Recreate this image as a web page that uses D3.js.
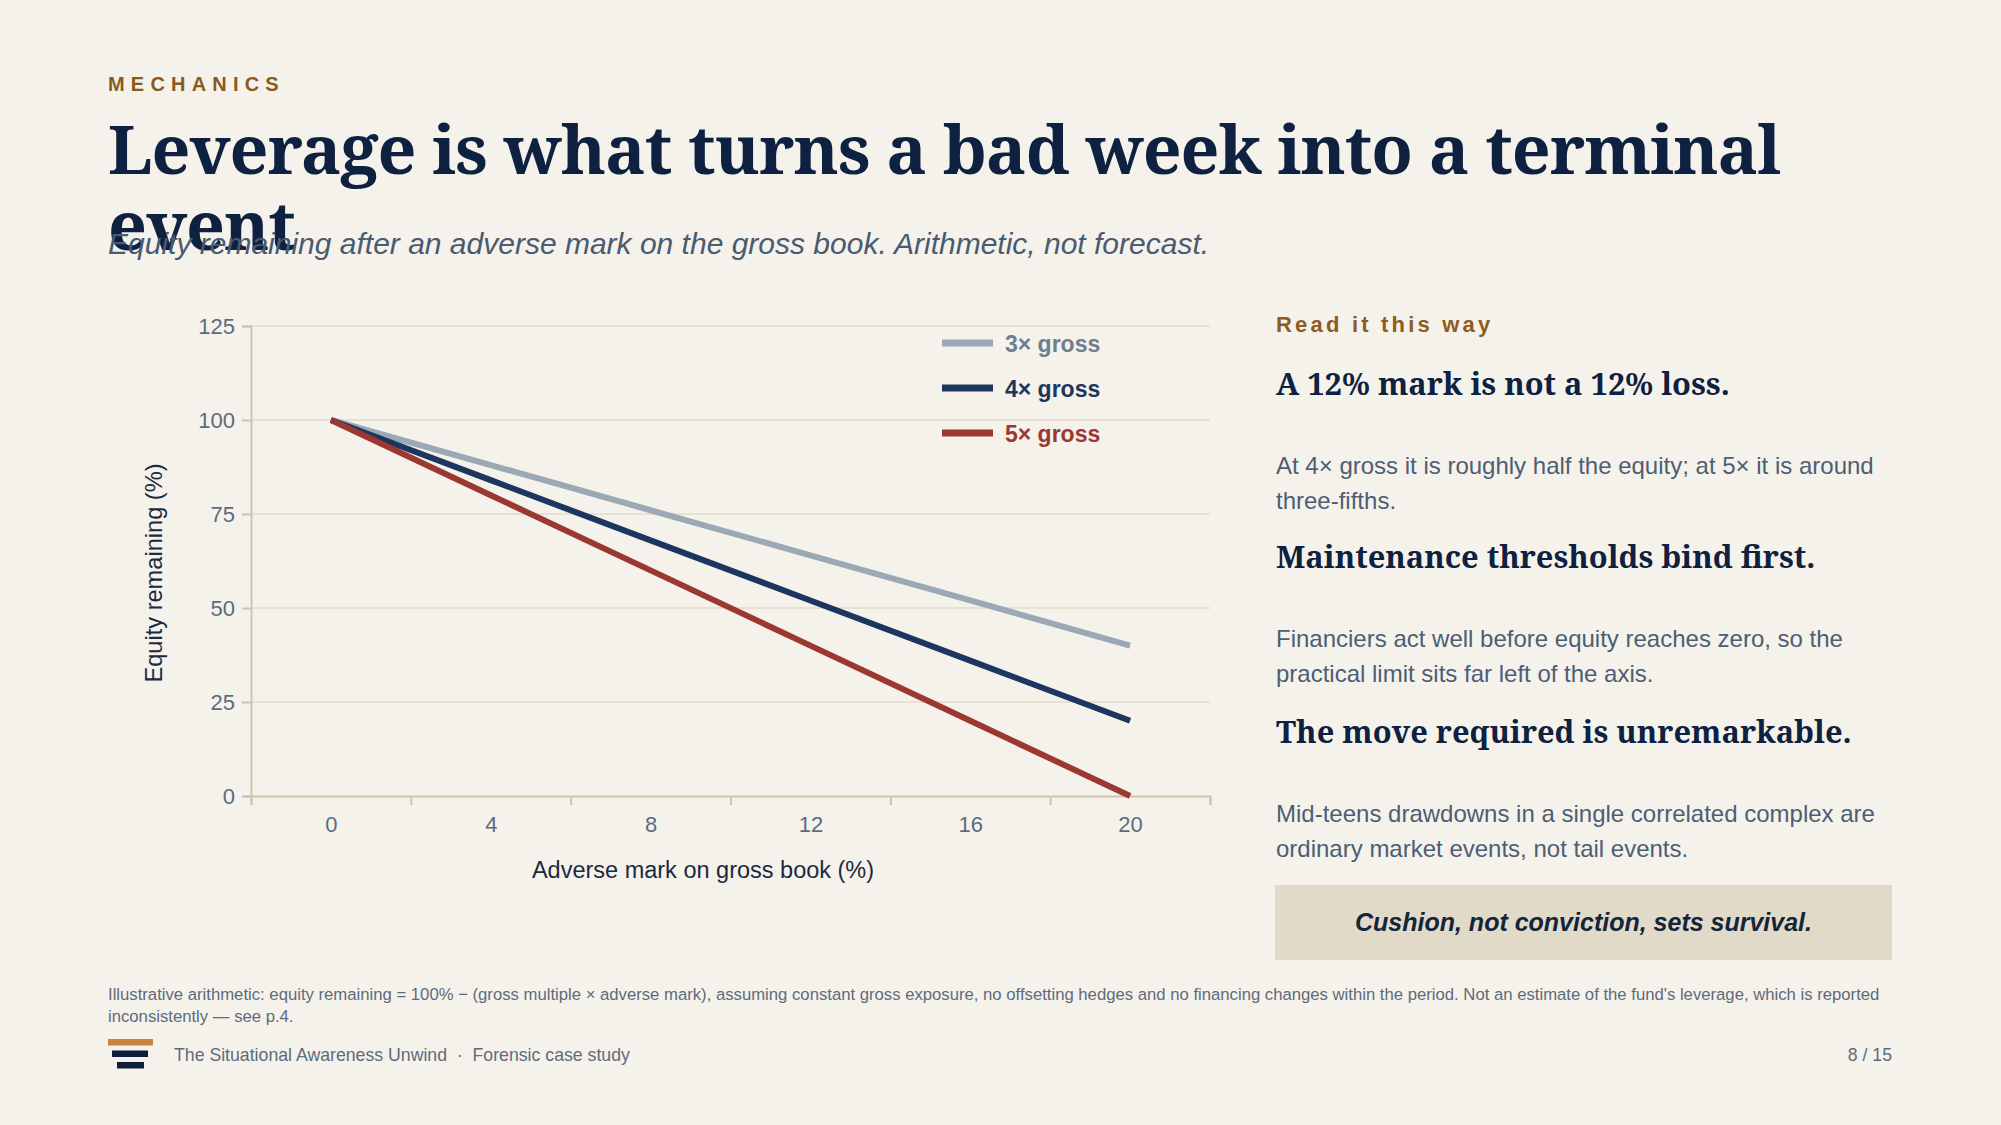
<!DOCTYPE html>
<html>
<head>
<meta charset="utf-8">
<script src="https://cdn.jsdelivr.net/npm/d3@7"></script>
<style>
  body { margin: 0; background: #f5f2eb; }
  svg { display: block; }
</style>
</head>
<body>
<div id="d3-container"></div>
<script>
/**
 * DATA
 * */
const marks = [0, 4, 8, 12, 16, 20];           // adverse mark on gross book (%)
const equity3x = [100, 88, 76, 64, 52, 40];    // equity remaining (%)
const equity4x = [100, 84, 68, 52, 36, 20];
const equity5x = [100, 80, 60, 40, 20, 0];
const seriesNames = ["3× gross", "4× gross", "5× gross"];
const yTicks = [0, 25, 50, 75, 100, 125];
const xLabelTicks = [0, 4, 8, 12, 16, 20];
const xBoundaryTicks = [-2, 2, 6, 10, 14, 18, 22];

const noteHeads = [
  "A 12% mark is not a 12% loss.",
  "Maintenance thresholds bind first.",
  "The move required is unremarkable."
];
const noteBodies = [
  ["At 4× gross it is roughly half the equity; at 5× it is around", "three-fifths."],
  ["Financiers act well before equity reaches zero, so the", "practical limit sits far left of the axis."],
  ["Mid-teens drawdowns in a single correlated complex are", "ordinary market events, not tail events."]
];
const footnoteLines = [
  "Illustrative arithmetic: equity remaining = 100% − (gross multiple × adverse mark), assuming constant gross exposure, no offsetting hedges and no financing changes within the period. Not an estimate of the fund's leverage, which is reported",
  "inconsistently — see p.4."
];

/**
 * CONSTANTS
 * */
const width = 2001, height = 1125;
const plot = { left: 251, right: 1210, top: 326, bottom: 796 };
const SANS = '"Liberation Sans", Arial, sans-serif';
const SERIF = '"Noto Serif", "DejaVu Serif", serif';
const colors = ["#9ba8b6", "#1d365f", "#9b3832"];
const legendText = ["#6e7e90", "#1d365f", "#9b3832"];
const navy = "#0e2140";

const svg = d3.select("#d3-container")
  .append("svg")
  .attr("width", width)
  .attr("height", height)
  .style("background", "#f5f2eb");

// header
svg.append("text")
  .attr("x", 108).attr("y", 91)
  .attr("font-family", SANS).attr("font-weight", 700)
  .attr("font-size", 20).attr("letter-spacing", 6.2)
  .attr("fill", "#8b5a1c")
  .text("MECHANICS");

svg.append("g").selectAll("text")
  .data(["Leverage is what turns a bad week into a terminal", "event"])
  .join("text")
  .attr("x", 108).attr("y", (d, i) => 174 + i * 76)
  .attr("font-family", SERIF).attr("font-weight", 700)
  .attr("font-size", 68).attr("letter-spacing", -1)
  .attr("fill", navy)
  .text(d => d);

svg.append("text")
  .attr("x", 108).attr("y", 254)
  .attr("font-family", SANS).attr("font-style", "italic")
  .attr("font-size", 30).attr("fill", "#4a5a70")
  .text("Equity remaining after an adverse mark on the gross book. Arithmetic, not forecast.");

/**
 * CHART
 * */
const x = d3.scaleLinear().domain([-2, 22]).range([plot.left, plot.right]);
const y = d3.scaleLinear().domain([0, 125]).range([plot.bottom, plot.top]);

// gridlines
svg.append("g")
  .selectAll("line")
  .data(yTicks.filter(d => d > 0))
  .join("line")
  .attr("x1", plot.left).attr("x2", plot.right)
  .attr("y1", d => y(d)).attr("y2", d => y(d))
  .attr("stroke", "#e3dbc9").attr("stroke-width", 1.5);

// y axis
const yAxis = svg.append("g")
  .attr("transform", `translate(${plot.left},0)`)
  .call(d3.axisLeft(y).tickValues(yTicks).tickSize(9).tickPadding(7));
yAxis.selectAll("text")
  .attr("font-family", SANS).attr("font-size", 22).attr("fill", "#5b6b7e");

// x axis: boundary ticks + centred labels
const xAxis = svg.append("g")
  .attr("transform", `translate(0,${plot.bottom})`)
  .call(d3.axisBottom(x).tickValues(xBoundaryTicks).tickSize(9).tickFormat(""));
const xLabels = svg.append("g")
  .attr("transform", `translate(0,${plot.bottom})`)
  .call(d3.axisBottom(x).tickValues(xLabelTicks).tickSize(0).tickPadding(20));
xLabels.select(".domain").remove();
xLabels.selectAll("text")
  .attr("font-family", SANS).attr("font-size", 22).attr("fill", "#5b6b7e");

svg.selectAll(".domain, .tick line")
  .attr("stroke", "#cfc5ae").attr("stroke-width", 2);

// axis titles
svg.append("text")
  .attr("transform", "translate(162,573) rotate(-90)")
  .attr("text-anchor", "middle")
  .attr("font-family", SANS).attr("font-size", 23.6).attr("fill", "#1a2a40")
  .text("Equity remaining (%)");

svg.append("text")
  .attr("x", 703).attr("y", 878)
  .attr("text-anchor", "middle")
  .attr("font-family", SANS).attr("font-size", 23.5).attr("fill", "#1a2a40")
  .text("Adverse mark on gross book (%)");

// lines
const series = [equity3x, equity4x, equity5x];
const line = d3.line()
  .x((d, i) => x(marks[i]))
  .y(d => y(d));

svg.append("g")
  .selectAll("path")
  .data(series)
  .join("path")
  .attr("d", line)
  .attr("fill", "none")
  .attr("stroke", (d, i) => colors[i])
  .attr("stroke-width", 6)
  .attr("stroke-linejoin", "round");

// legend
const legend = svg.append("g")
  .selectAll("g")
  .data(seriesNames)
  .join("g")
  .attr("transform", (d, i) => `translate(942,${343 + i * 45})`);

legend.append("line")
  .attr("x1", 0).attr("x2", 51)
  .attr("stroke", (d, i) => colors[i]).attr("stroke-width", 7);

legend.append("text")
  .attr("x", 63).attr("y", 9)
  .attr("font-family", SANS).attr("font-weight", 700).attr("font-size", 23)
  .attr("fill", (d, i) => legendText[i])
  .text(d => d);

/**
 * RIGHT PANEL
 * */
const panelX = 1276;
svg.append("text")
  .attr("x", panelX).attr("y", 332)
  .attr("font-family", SANS).attr("font-weight", 700)
  .attr("font-size", 22).attr("letter-spacing", 3.2)
  .attr("fill", "#8e5c1e")
  .text("Read it this way");

const headY = [395, 568, 743];
const notes = svg.append("g")
  .selectAll("g")
  .data(noteHeads)
  .join("g");

notes.append("text")
  .attr("x", panelX).attr("y", (d, i) => headY[i])
  .attr("font-family", SERIF).attr("font-weight", 700)
  .attr("font-size", 30.8).attr("fill", navy)
  .text(d => d);

notes.each(function(d, i) {
  d3.select(this).selectAll("text.body")
    .data(noteBodies[i])
    .join("text")
    .attr("class", "body")
    .attr("x", panelX).attr("y", (t, j) => headY[i] + 79 + j * 34.5)
    .attr("font-family", SANS).attr("font-size", 24).attr("fill", "#4d5e74")
    .text(t => t);
});

svg.append("rect")
  .attr("x", 1275).attr("y", 885)
  .attr("width", 617).attr("height", 75)
  .attr("fill", "#e2dac8");

svg.append("text")
  .attr("x", 1583.5).attr("y", 931)
  .attr("text-anchor", "middle")
  .attr("font-family", SANS).attr("font-weight", 700).attr("font-style", "italic")
  .attr("font-size", 25).attr("fill", "#14243a")
  .text("Cushion, not conviction, sets survival.");

/**
 * FOOTER
 * */
svg.append("g")
  .selectAll("text")
  .data(footnoteLines)
  .join("text")
  .attr("x", 108).attr("y", (d, i) => 1000 + i * 22)
  .attr("font-family", SANS).attr("font-size", 16.7).attr("fill", "#5e6b7a")
  .text(d => d);

const logoBars = [
  { x: 108, y: 1039, w: 45, c: "#c8843e" },
  { x: 112, y: 1050.5, w: 36, c: "#0f1f3a" },
  { x: 117, y: 1062, w: 27, c: "#0f1f3a" }
];
svg.append("g")
  .selectAll("rect")
  .data(logoBars)
  .join("rect")
  .attr("x", d => d.x).attr("y", d => d.y)
  .attr("width", d => d.w).attr("height", 6.5)
  .attr("fill", d => d.c);

svg.append("text")
  .attr("x", 174).attr("y", 1061)
  .attr("font-family", SANS).attr("font-size", 17.7).attr("fill", "#5d6b7c")
  .attr("xml:space", "preserve")
  .text("The Situational Awareness Unwind  ·  Forensic case study");

svg.append("text")
  .attr("x", 1892).attr("y", 1061)
  .attr("text-anchor", "end")
  .attr("font-family", SANS).attr("font-size", 17.7).attr("fill", "#5d6b7c")
  .text("8 / 15");
</script>
</body>
</html>
